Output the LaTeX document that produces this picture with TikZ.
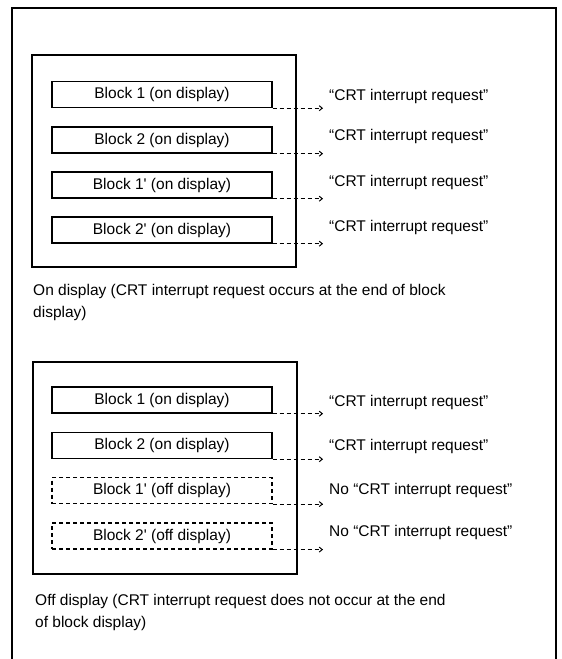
\documentclass[tikz,border=0pt]{standalone}
\usepackage{fontspec}
\setmainfont{Liberation Sans}
\usetikzlibrary{arrows.meta, positioning}
\newcommand{\blkfont}{\fontsize{15.5}{22}\selectfont}

\begin{document}
\begin{tikzpicture}[x=1pt, y=-1pt,
        blk/.style={draw, line width=1.4pt, minimum width=220pt, minimum height=26pt,
                inner sep=0pt, font=\blkfont},
        blkoff/.style={blk, line width=1.2pt, dash pattern=on 4pt off 3pt},
        panel/.style={draw, line width=1.2pt, minimum width=264pt, minimum height=212pt},
        msg/.style={anchor=west, inner sep=0pt, font=\blkfont},
        note/.style={anchor=north west, inner sep=0pt, align=left, font=\blkfont},
        req/.style={draw, line width=1pt, dash pattern=on 4pt off 3pt,
                -{Straight Barb[length=3pt,width=5pt]}}
        ]
        \useasboundingbox (0,0) rectangle (562,659);
        \draw[line width=2.2pt] (12,659) -- (12,8) -- (556,8) -- (556,659);

        % On display
        \node[panel] (p1) at (164,161) {};
        \node[blk] (a1) at (162, 94.5) {Block 1 (on display)};
        \node[blk] (a2) at (162,140)   {Block 2 (on display)};
        \node[blk] (a3) at (162,185)   {Block 1\textquotesingle\ (on display)};
        \node[blk] (a4) at (162,230)   {Block 2\textquotesingle\ (on display)};

        \node[msg] (ra1) at (329, 96)  {“CRT interrupt request”};
        \node[msg] (ra2) at (329,136)  {“CRT interrupt request”};
        \node[msg] (ra3) at (329,182)  {“CRT interrupt request”};
        \node[msg] (ra4) at (329,227)  {“CRT interrupt request”};

        \node[note] (na) at (33,284)
                {On display (CRT interrupt request occurs at the end of block\\display)};

        % Off display
        \node[panel] (p2) at (165,468) {};
        \node[blk]    (b1) at (162,400)   {Block 1 (on display)};
        \node[blk]    (b2) at (162,445.5) {Block 2 (on display)};
        \node[blkoff] (b3) at (162,490.5) {Block 1\textquotesingle\ (off display)};
        \node[blkoff] (b4) at (162,536)   {Block 2\textquotesingle\ (off display)};

        \node[msg] (rb1) at (329,402)  {“CRT interrupt request”};
        \node[msg] (rb2) at (329,446)  {“CRT interrupt request”};
        \node[msg] (rb3) at (329,490)  {No “CRT interrupt request”};
        \node[msg] (rb4) at (329,532)  {No “CRT interrupt request”};

        \node[note] (nb) at (35,594)
                {Off display (CRT interrupt request does not occur at the end\\of block display)};

        % block end -> request
        \foreach \b/\r in {a1/ra1,a2/ra2,a3/ra3,a4/ra4,b1/rb1,b2/rb2,b3/rb3,b4/rb4} {
                \draw[req] (\b.south east) -- ([xshift=-6pt]\b.south east -| \r.west);
            }
\end{tikzpicture}
\end{document}
